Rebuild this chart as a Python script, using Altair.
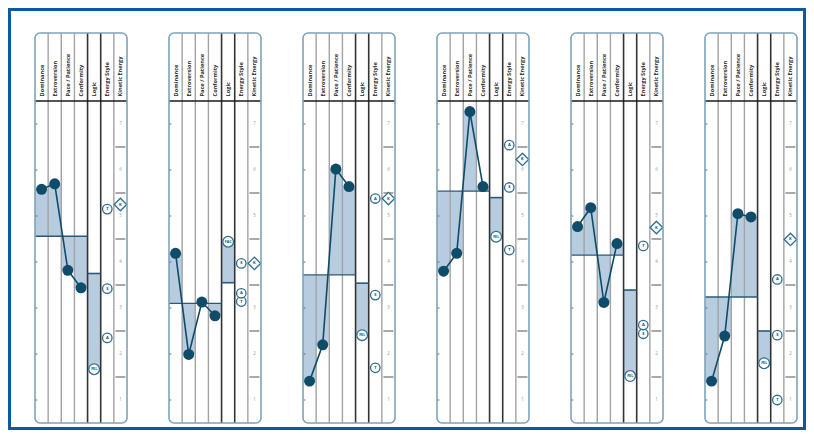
import altair as alt
import pandas as pd

# ---------------- data ----------------
column_names = ["Dominance", "Extroversion", "Pace / Patience", "Conformity",
                "Logic", "Energy Style", "Kinetic Energy"]
panel_ids = [1, 2, 3, 4, 5, 6]

dominance    = [5.58, 4.19, 1.41, 3.80, 4.77, 1.41]
extroversion = [5.70, 1.99, 2.20, 4.19, 5.18, 2.39]
pace         = [3.82, 3.13, 6.02, 7.27, 3.12, 5.05]
conformity   = [3.44, 2.83, 5.64, 5.64, 4.40, 4.98]
midline      = [4.56, 3.10, 3.72, 5.54, 4.15, 3.24]

logic_base   = [3.75, 3.55, 3.54, 5.40, 3.39, 2.50]
logic_value  = [1.67, 4.44, 2.41, 4.55, 1.52, 1.80]
logic_label  = ["FEL", "FAC", "FEL", "FEL", "FEL", "FEL"]

style_t = [5.15, 3.14, 1.70, 4.26, 4.35, 1.00]
style_s = [3.42, 3.97, 3.28, 5.62, 2.44, 2.41]
style_a = [2.35, 3.32, 5.38, 6.54, 2.63, 3.62]

kinetic = [5.25, 3.97, 5.38, 6.23, 4.75, 4.49]
kinetic_letter = "K"

scale_values = [1, 2, 3, 4, 5, 6, 7]
separator_values = [1.5, 2.5, 3.5, 4.5, 5.5, 6.5]

# ---------------- layout (style) constants ----------------
W, H = 798, 422
COL_PX = 92 / 7.0
PX_UNIT = 46.0
LEFT = 27 / COL_PX
PERIOD = 134 / COL_PX
Y_LO, Y_HI = 0.5 - 7 / PX_UNIT, 7.5 + 93 / PX_UNIT
HEADER_TOP = 7.5 + 68 / PX_UNIT

DOT = "#0f4c69"
SHADE = "#b8cce0"
RING = "#2d6e90"
BORDER = "#7fa2bb"

xs = alt.Scale(domain=[0, W / COL_PX], nice=False, zero=False)
ys = alt.Scale(domain=[Y_LO, Y_HI], nice=False, zero=False)


def X(f):
    return alt.X(f + ":Q", scale=xs, axis=None)


def Y(f):
    return alt.Y(f + ":Q", scale=ys, axis=None)


def x0(i):
    return LEFT + i * PERIOD


# ---------------- tables ----------------
prof_rows = []
for i, p in enumerate(panel_ids):
    vals = [dominance[i], extroversion[i], pace[i], conformity[i]]
    for c, v in enumerate(vals):
        prof_rows.append(dict(panel=p, col=c, x=x0(i) + c + 0.5, xl=x0(i) + c,
                              xr=x0(i) + c + 1, value=v, mid=midline[i]))
profile = pd.DataFrame(prof_rows)

pan_rows = []
for i, p in enumerate(panel_ids):
    pan_rows.append(dict(panel=p, left=x0(i), right=x0(i) + 7, midr=x0(i) + 4,
                         lgl=x0(i) + 4, lgr=x0(i) + 5, lgx=x0(i) + 4.5,
                         kx=x0(i) + 6.5, mid=midline[i], base=logic_base[i],
                         lv=logic_value[i], lab=logic_label[i],
                         kin=kinetic[i], klab=kinetic_letter,
                         bot=0.5, top=HEADER_TOP, hline=7.5))
panels = pd.DataFrame(pan_rows)

en_rows = []
for i, p in enumerate(panel_ids):
    for letter, arr in (("T", style_t), ("S", style_s), ("A", style_a)):
        en_rows.append(dict(panel=p, x=x0(i) + 5.5, value=arr[i], letter=letter))
energy = pd.DataFrame(en_rows)

vl_rows = []
for i, p in enumerate(panel_ids):
    for c in range(1, 7):
        vl_rows.append(dict(panel=p, x=x0(i) + c, bot=0.5, top=HEADER_TOP,
                            kind="dark" if c in (4, 5) else "grey"))
vlines = pd.DataFrame(vl_rows)

hd_rows = []
for i, p in enumerate(panel_ids):
    for c, name in enumerate(column_names):
        hd_rows.append(dict(panel=p, x=x0(i) + c + 0.5, y=7.6, name=name))
header = pd.DataFrame(hd_rows)

ks_rows, sep_rows, tick_rows = [], [], []
for i, p in enumerate(panel_ids):
    for v in scale_values:
        # the numeral hidden under the kinetic diamond is not shown
        if abs(v - kinetic[i]) > 0.15:
            ks_rows.append(dict(panel=p, x=x0(i) + 6.5, value=v, lab=str(v)))
        tick_rows.append(dict(panel=p, xl=x0(i), xr=x0(i) + 0.18, value=v))
    for v in separator_values:
        sep_rows.append(dict(panel=p, xl=x0(i) + 6.12, xr=x0(i) + 6.88, value=v))
kscale = pd.DataFrame(ks_rows)
seps = pd.DataFrame(sep_rows)
ticks = pd.DataFrame(tick_rows)

# ---------------- layers ----------------
shade = alt.Chart(profile).mark_rect(color=SHADE).encode(
    x=X("xl"), x2="xr", y=Y("mid"), y2="value")

logic_bar = alt.Chart(panels).mark_rect(color=SHADE).encode(
    x=X("lgl"), x2="lgr", y=Y("base"), y2="lv")

grey_lines = alt.Chart(vlines[vlines.kind == "grey"]).mark_rule(
    color="#a3a3a3", strokeWidth=1.4).encode(x=X("x"), y=Y("bot"), y2="top")
dark_lines = alt.Chart(vlines[vlines.kind == "dark"]).mark_rule(
    color="#333333", strokeWidth=1.6).encode(x=X("x"), y=Y("bot"), y2="top")

header_line = alt.Chart(panels).mark_rule(color="#1a1a1a", strokeWidth=1.6).encode(
    x=X("left"), x2="right", y=Y("hline"))

mid_line = alt.Chart(panels).mark_rule(color="#285a78", strokeWidth=1.4).encode(
    x=X("left"), x2="midr", y=Y("mid"))
logic_line = alt.Chart(panels).mark_rule(color="#285a78", strokeWidth=1.6).encode(
    x=X("lgl"), x2="lgr", y=Y("base"))

sep_layer = alt.Chart(seps).mark_rule(color="#8c8c8c", strokeWidth=1.5).encode(
    x=X("xl"), x2="xr", y=Y("value"))
tick_layer = alt.Chart(ticks).mark_rule(color="#666666", strokeWidth=1).encode(
    x=X("xl"), x2="xr", y=Y("value"))
kscale_text = alt.Chart(kscale).mark_text(
    font="Open Sans", fontSize=4.5, color="#9a9a9a").encode(
    x=X("x"), y=Y("value"), text="lab:N")

prof_line = alt.Chart(profile).mark_line(color=DOT, strokeWidth=1.6).encode(
    x=X("x"), y=Y("value"), detail="panel:N", order="col:Q")
dots = alt.Chart(profile).mark_circle(color=DOT, size=120, opacity=1).encode(
    x=X("x"), y=Y("value"))

energy_pts = alt.Chart(energy).mark_point(
    shape="circle", filled=True, fill="white", stroke=RING, strokeWidth=1.3,
    size=90, opacity=1).encode(x=X("x"), y=Y("value"))
energy_txt = alt.Chart(energy).mark_text(
    font="Open Sans", fontSize=4, fontWeight="bold", color=DOT).encode(
    x=X("x"), y=Y("value"), text="letter:N")

logic_pt = alt.Chart(panels).mark_point(
    shape="circle", filled=True, fill="white", stroke=RING, strokeWidth=1.3,
    size=115, opacity=1).encode(x=X("lgx"), y=Y("lv"))
logic_txt = alt.Chart(panels).mark_text(
    font="Open Sans", fontSize=3.6, fontWeight="bold", color=DOT).encode(
    x=X("lgx"), y=Y("lv"), text="lab:N")

kin_pt = alt.Chart(panels).mark_point(
    shape="diamond", filled=True, fill="white", stroke=RING, strokeWidth=1.3,
    size=155, opacity=1).encode(x=X("kx"), y=Y("kin"))
kin_txt = alt.Chart(panels).mark_text(
    font="Open Sans", fontSize=4, fontWeight="bold", color=DOT).encode(
    x=X("kx"), y=Y("kin"), text="klab:N")

header_txt = alt.Chart(header).mark_text(
    font="Open Sans", fontSize=5.6, fontWeight="bold", color="#2b2b2b",
    angle=270, align="left", baseline="middle").encode(
    x=X("x"), y=Y("y"), text="name:N")

border = alt.Chart(panels).mark_rect(
    fill="white", fillOpacity=0, stroke=BORDER, strokeWidth=1.6,
    cornerRadius=5).encode(x=X("left"), x2="right", y=Y("bot"), y2="top")

chart = alt.layer(
    shade, logic_bar, grey_lines, dark_lines, header_line, mid_line, logic_line,
    sep_layer, tick_layer, kscale_text, prof_line, dots, energy_pts, energy_txt,
    logic_pt, logic_txt, kin_pt, kin_txt, header_txt, border
).properties(
    width=W, height=H, padding=0, autosize=alt.AutoSizeParams(type="none"),
    background="#0a5aa0"
).configure_view(
    fill="white", stroke="#0a5aa0", strokeWidth=6
)

chart.save("out.html", embed_options={"renderer": "svg", "actions": False})
